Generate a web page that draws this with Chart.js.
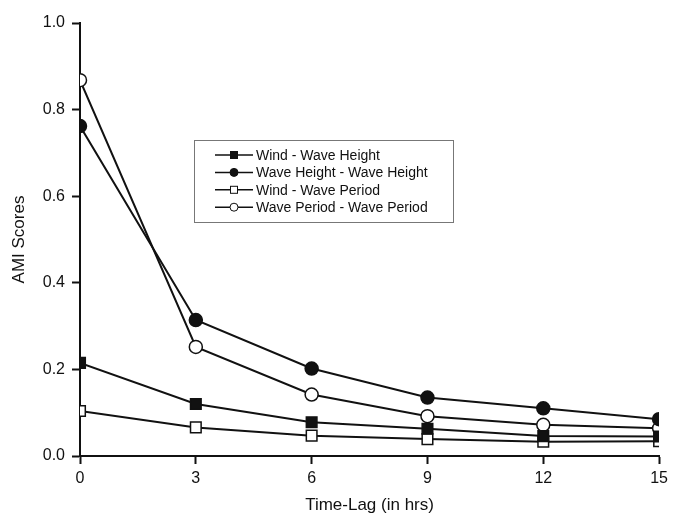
<!DOCTYPE html>
<html>
<head>
<meta charset="utf-8">
<script src="https://cdn.jsdelivr.net/npm/chart.js@4"></script>
<style>
  html, body { margin: 0; padding: 0; background: #fff; }
  #wrap { width: 673px; height: 518px; }
</style>
</head>
<body>
<div id="wrap"><canvas id="amiChart" width="673" height="518"></canvas></div>
<script>
// time lags (hrs) and AMI scores
var lags = [0, 3, 6, 9, 12, 15];
var windWaveHeight = [0.215, 0.120, 0.078, 0.063, 0.046, 0.045];
var waveHeightWaveHeight = [0.762, 0.314, 0.202, 0.135, 0.110, 0.085];
var windWavePeriod = [0.104, 0.066, 0.047, 0.039, 0.033, 0.034];
var wavePeriodWavePeriod = [0.868, 0.252, 0.142, 0.092, 0.072, 0.064];
var seriesNames = ['Wind - Wave Height', 'Wave Height - Wave Height', 'Wind - Wave Period', 'Wave Period - Wave Period'];

var ink = '#111';
var font = 'Liberation Sans, Arial, Helvetica, sans-serif';

function pts(ys) {
    return lags.map(function (x, i) { return { x: x, y: ys[i] }; });
}

function series(label, ys, style, filled) {
    return {
        label: label,
        data: pts(ys),
        borderColor: ink,
        borderWidth: 2,
        pointStyle: style,
        pointRadius: style === 'rect' ? 7.5 : 6.5,
        pointBackgroundColor: filled ? ink : '#fff',
        pointBorderColor: ink,
        pointBorderWidth: 1.5,
        tension: 0,
        fill: false
    };
}

// legend box inside the plot, drawn by hand
var boxLegend = {
    id: 'boxLegend',
    afterDatasetsDraw: function (chart) {
        var ctx = chart.ctx;
        var x0 = 194, y0 = 140, w = 259, h = 82;
        ctx.save();
        ctx.fillStyle = '#fff';
        ctx.fillRect(x0, y0, w, h);
        ctx.strokeStyle = '#777';
        ctx.lineWidth = 1;
        ctx.strokeRect(x0 + 0.5, y0 + 0.5, w, h);
        ctx.font = '14px ' + font;
        ctx.textBaseline = 'middle';
        chart.data.datasets.forEach(function (ds, i) {
            var y = 155 + i * 17.4;
            ctx.strokeStyle = ink;
            ctx.lineWidth = 1.5;
            ctx.beginPath();
            ctx.moveTo(215, y);
            ctx.lineTo(253, y);
            ctx.stroke();
            ctx.fillStyle = ds.pointBackgroundColor;
            ctx.lineWidth = 1;
            if (ds.pointStyle === 'rect') {
                ctx.fillRect(230.5, y - 3.5, 7, 7);
                ctx.strokeRect(230.5, y - 3.5, 7, 7);
            } else {
                ctx.beginPath();
                ctx.arc(234, y, 4, 0, Math.PI * 2);
                ctx.fill();
                ctx.stroke();
            }
            ctx.fillStyle = ink;
            ctx.fillText(ds.label, 256, y + 1);
        });
        ctx.restore();
    }
};

var ctx = document.getElementById('amiChart').getContext('2d');
var chart = new Chart(ctx, {
    type: 'line',
    data: {
        datasets: [
            series(seriesNames[0], windWaveHeight, 'rect', true),
            series(seriesNames[1], waveHeightWaveHeight, 'circle', true),
            series(seriesNames[2], windWavePeriod, 'rect', false),
            series(seriesNames[3], wavePeriodWavePeriod, 'circle', false)
        ]
    },
    options: {
        responsive: false,
        animation: false,
        layout: { padding: { top: 23, right: 11, left: 0, bottom: 0 } },
        plugins: {
            legend: { display: false },
            tooltip: { enabled: false }
        },
        scales: {
            x: {
                type: 'linear',
                min: 0,
                max: 15,
                afterFit: function (s) { s.height = 62; },
                ticks: { stepSize: 3, color: ink, padding: 5, font: { family: font, size: 16 } },
                grid: { drawOnChartArea: false, tickLength: 8, tickColor: ink, tickWidth: 2 },
                border: { color: ink, width: 2 },
                title: { display: true, text: 'Time-Lag (in hrs)', color: ink, padding: { top: 0, bottom: 2 }, font: { family: font, size: 17 } }
            },
            y: {
                min: 0,
                max: 1,
                afterFit: function (s) { s.width = 80; },
                ticks: {
                    stepSize: 0.2,
                    color: ink,
                    padding: 7,
                    font: { family: font, size: 16 },
                    callback: function (v) { return v.toFixed(1); }
                },
                grid: { drawOnChartArea: false, tickLength: 8, tickColor: ink, tickWidth: 2 },
                border: { color: ink, width: 2 },
                title: { display: true, text: 'AMI Scores', color: ink, padding: { top: 9, bottom: 2 }, font: { family: font, size: 17 } }
            }
        }
    },
    plugins: [boxLegend]
});
</script>
</body>
</html>
